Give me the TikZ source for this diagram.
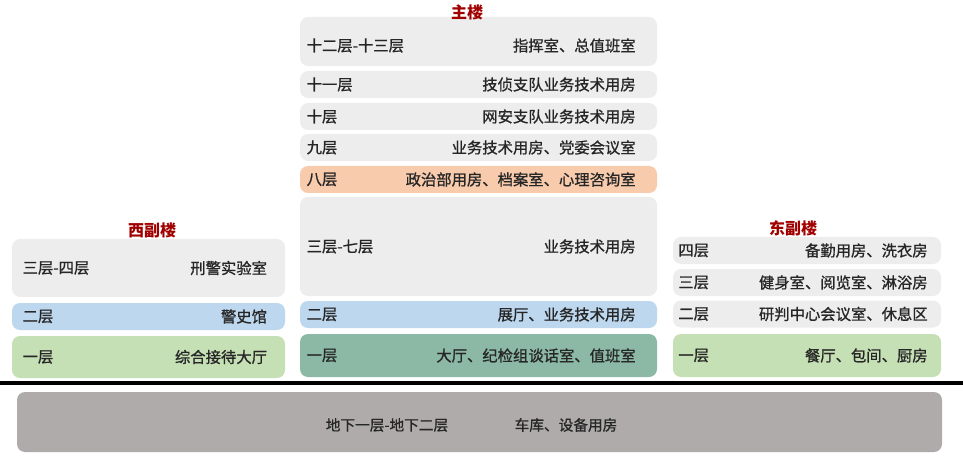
\documentclass[tikz,border=0pt]{standalone}
\usepackage{fontspec}
\setmainfont{Noto Sans CJK SC}
\newfontfamily\flfont{Noto Sans CJK SC}[FakeBold=1]
\usetikzlibrary{positioning}
\definecolor{floorgray}{HTML}{EDEDED}
\definecolor{flooror}{HTML}{F8CBAD}
\definecolor{floorblue}{HTML}{BDD7EE}
\definecolor{floorgreen}{HTML}{C5E0B4}
\definecolor{floorteal}{HTML}{8CB9A6}
\definecolor{floorbase}{HTML}{AFABAB}
\definecolor{titlered}{HTML}{A00000}
\definecolor{txt}{HTML}{262626}
\tikzset{
	floor/.style={rounded corners=6pt, inner sep=0pt},
	mainfl/.style={floor, minimum width=267.75pt},
	westfl/.style={floor, minimum width=204.75pt},
	eastfl/.style={floor, minimum width=201pt},
	lvl/.style={inner sep=0pt, text=txt, font=\flfont\fontsize{11.5}{13}\selectfont},
	bldg/.style={inner sep=0pt, text=titlered, font=\fontsize{12}{14}\selectfont\bfseries}
}
\begin{document}
\begin{tikzpicture}[x=0.75pt, y=-0.75pt]
		\useasboundingbox (0, 0) rectangle (963, 463);
		
		\node [mainfl, fill=floorgray, minimum height=36.75pt] (m13) at (478.5, 41.5) {};
		\node [mainfl, fill=floorgray, minimum height=20.25pt] (m11) at (478.5, 84.5) {};
		\node [mainfl, fill=floorgray, minimum height=20.25pt] (m10) at (478.5, 116.5) {};
		\node [mainfl, fill=floorgray, minimum height=20.25pt] (m9) at (478.5, 147.5) {};
		\node [mainfl, fill=flooror, minimum height=20.25pt] (m8) at (478.5, 179.5) {};
		\node [mainfl, fill=floorgray, minimum height=74.25pt] (m37) at (478.5, 246.5) {};
		\node [mainfl, fill=floorblue, minimum height=20.25pt] (m2) at (478.5, 314.5) {};
		\node [mainfl, fill=floorteal, minimum height=32.25pt] (m1) at (478.5, 355.5) {};
		
		\node [lvl, right=5pt of m13.west, yshift=-3pt] {十二层-十三层};
		\node [lvl, left=16pt of m13.east, yshift=-3pt] {指挥室、总值班室};
		\node [lvl, right=5pt of m11.west] {十一层};
		\node [lvl, left=16pt of m11.east] {技侦支队业务技术用房};
		\node [lvl, right=5pt of m10.west] {十层};
		\node [lvl, left=16pt of m10.east] {网安支队业务技术用房};
		\node [lvl, right=5pt of m9.west] {九层};
		\node [lvl, left=16pt of m9.east] {业务技术用房、党委会议室};
		\node [lvl, right=5pt of m8.west] {八层};
		\node [lvl, left=16pt of m8.east] {政治部用房、档案室、心理咨询室};
		\node [lvl, right=5pt of m37.west] {三层-七层};
		\node [lvl, left=16pt of m37.east] {业务技术用房};
		\node [lvl, right=5pt of m2.west] {二层};
		\node [lvl, left=16pt of m2.east] {展厅、业务技术用房};
		\node [lvl, right=5pt of m1.west] {一层};
		\node [lvl, left=16pt of m1.east] {大厅、纪检组谈话室、值班室};
		
		\node [westfl, fill=floorgray, minimum height=43.5pt] (w34) at (148.5, 268) {};
		\node [westfl, fill=floorblue, minimum height=20.25pt] (w2) at (148.5, 316.5) {};
		\node [westfl, fill=floorgreen, minimum height=31.5pt] (w1) at (148.5, 357) {};
		
		\node [lvl, right=8pt of w34.west] {三层-四层};
		\node [lvl, left=13.5pt of w34.east] {刑警实验室};
		\node [lvl, right=8pt of w2.west] {二层};
		\node [lvl, left=13.5pt of w2.east] {警史馆};
		\node [lvl, right=8pt of w1.west] {一层};
		\node [lvl, left=13.5pt of w1.east] {综合接待大厅};
		
		\node [eastfl, fill=floorgray, minimum height=20.25pt] (e4) at (807, 250.5) {};
		\node [eastfl, fill=floorgray, minimum height=20.25pt] (e3) at (807, 282.5) {};
		\node [eastfl, fill=floorgray, minimum height=20.25pt] (e2) at (807, 314) {};
		\node [eastfl, fill=floorgreen, minimum height=32.25pt] (e1) at (807, 355.5) {};
		
		\node [lvl, right=4pt of e4.west] {四层};
		\node [lvl, left=10pt of e4.east] {备勤用房、洗衣房};
		\node [lvl, right=4pt of e3.west] {三层};
		\node [lvl, left=10pt of e3.east] {健身室、阅览室、淋浴房};
		\node [lvl, right=4pt of e2.west] {二层};
		\node [lvl, left=10pt of e2.east] {研判中心会议室、休息区};
		\node [lvl, right=4pt of e1.west] {一层};
		\node [lvl, left=10pt of e1.east] {餐厅、包间、厨房};
		
		\node [bldg] (tmain) at (467, 12) {主楼};
		\node [bldg] (twest) at (152, 230) {西副楼};
		\node [bldg] (teast) at (793, 228) {东副楼};
		
		\coordinate (gl) at (0, 383);
		\coordinate (gr) at (963, 383);
		\draw [line width=3pt] (gl) -- (gr);
		
		\node [floor, fill=floorbase, minimum width=693.75pt, minimum height=45pt] (b12) at (479.5, 422) {};
		\node [lvl, font=\flfont\fontsize{11}{13}\selectfont] at (387, 425) {地下一层-地下二层};
		\node [lvl, font=\flfont\fontsize{11}{13}\selectfont] at (566, 425) {车库、设备用房};

	\end{tikzpicture}
\end{document}
